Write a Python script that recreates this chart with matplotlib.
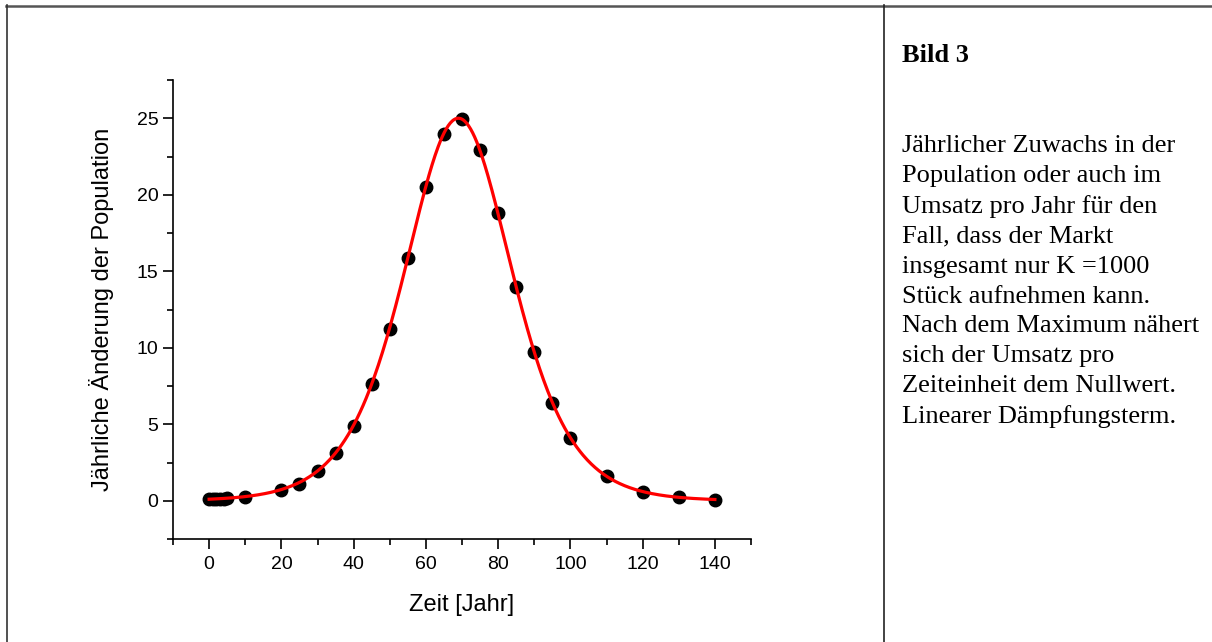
import numpy as np
import matplotlib.pyplot as plt
from matplotlib.lines import Line2D
from matplotlib.ticker import MultipleLocator

# measured yearly growth
years = [0, 1, 2, 3, 4, 5, 10, 20, 25, 30, 35, 40, 45, 50, 55, 60, 65, 70,
         75, 80, 85, 90, 95, 100, 110, 120, 130, 140]
growth = [0.1, 0.11, 0.12, 0.13, 0.14, 0.15, 0.26, 0.7, 1.1, 1.95, 3.1, 4.9,
          7.6, 11.25, 15.85, 20.5, 24.0, 24.95, 22.9, 18.8, 14.0, 9.75, 6.4,
          4.1, 1.6, 0.6, 0.25, 0.07]
K = 1000  # market capacity

x_ticks = [0, 20, 40, 60, 80, 100, 120, 140]
y_ticks = [0, 5, 10, 15, 20, 25]

title = "Bild 3"
caption = ("Jährlicher Zuwachs in der\nPopulation oder auch im\n"
           "Umsatz pro Jahr für den\nFall, dass der Markt\n"
           "insgesamt nur K =1000\nStück aufnehmen kann.\n"
           "Nach dem Maximum nähert\nsich der Umsatz pro\n"
           "Zeiteinheit dem Nullwert.\nLinearer Dämpfungsterm.")

t = np.array(years, float)
g = np.array(growth, float)


def logistic_rate(tt, r, t0):
    e = np.exp(-r * (tt - t0))
    return K * r * e / (1 + e) ** 2


# least squares fit of r and t0 by a coarse grid search
best = None
for r in np.linspace(0.08, 0.12, 81):
    for t0 in np.linspace(65, 75, 101):
        err = np.sum((logistic_rate(t, r, t0) - g) ** 2)
        if best is None or err < best[0]:
            best = (err, r, t0)
_, r_fit, t0_fit = best
t_fine = np.linspace(0, 140, 500)

plt.rcParams['font.family'] = ['Liberation Sans', 'DejaVu Sans']
serif = ['Liberation Serif', 'DejaVu Serif']

fig = plt.figure(figsize=(12.12, 6.42), dpi=100)
ax = fig.add_axes([173 / 1212, 1 - 539 / 642, 578 / 1212, 459 / 642])

ax.plot(t, g, 'o', color='black', markersize=9, zorder=2)
ax.plot(t_fine, logistic_rate(t_fine, r_fit, t0_fit), color='red', lw=2.3, zorder=3)

ax.set_xlim(-10, 150)
ax.set_ylim(-2.5, 27.5)
ax.set_xticks(x_ticks)
ax.set_yticks(y_ticks)
ax.xaxis.set_minor_locator(MultipleLocator(10))
ax.yaxis.set_minor_locator(MultipleLocator(2.5))
ax.tick_params(which='major', direction='out', length=7, width=1.2, labelsize=14)
ax.tick_params(axis='x', which='major', pad=5)
ax.tick_params(which='minor', direction='out', length=4, width=1.2)
for side in ('top', 'right'):
    ax.spines[side].set_visible(False)
for side in ('left', 'bottom'):
    ax.spines[side].set_linewidth(1.2)

ax.set_xlabel("Zeit [Jahr]", fontsize=17, labelpad=15)
ax.set_ylabel("Jährliche Änderung der Population", fontsize=17, labelpad=16)

# table cell borders
fig.add_artist(Line2D([6 / 1212, 1], [1 - 5.5 / 642] * 2, color='#555555', lw=1.8,
                      transform=fig.transFigure))
fig.add_artist(Line2D([7 / 1212] * 2, [0, 1 - 5 / 642], color='#333333', lw=1.2,
                      transform=fig.transFigure))
fig.add_artist(Line2D([884 / 1212] * 2, [0, 1 - 5 / 642], color='#222222', lw=1.2,
                      transform=fig.transFigure))

fig.text(902 / 1212, 1 - 62 / 642, title, fontsize=19, fontweight='bold',
         family=serif, va='baseline')
fig.text(902 / 1212, 1 - 135 / 642, caption, fontsize=19, linespacing=1.46,
         family=serif, va='top')

fig.savefig('out.png', dpi=100)
